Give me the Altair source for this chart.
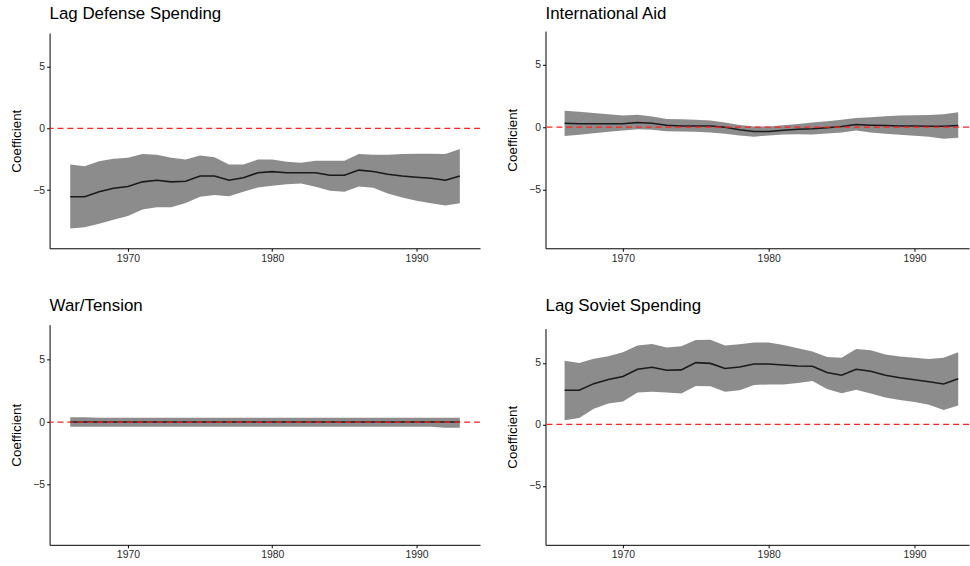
import altair as alt
import pandas as pd

# Time-varying coefficient estimates with 95% bands, 1966-1993
years = list(range(1966, 1994))

defense_est = [-5.53, -5.53, -5.13, -4.84, -4.70, -4.33, -4.20, -4.33, -4.28, -3.86,
               -3.86, -4.20, -4.00, -3.60, -3.50, -3.60, -3.60, -3.60, -3.80, -3.80,
               -3.38, -3.50, -3.72, -3.86, -3.96, -4.04, -4.20, -3.86]
defense_hi = [-2.93, -3.06, -2.66, -2.47, -2.39, -2.07, -2.13, -2.39, -2.53, -2.20,
              -2.34, -2.93, -2.93, -2.53, -2.53, -2.71, -2.79, -2.63, -2.63, -2.63,
              -2.07, -2.13, -2.13, -2.07, -2.05, -2.05, -2.07, -1.68]
defense_lo = [-8.11, -8.00, -7.71, -7.39, -7.10, -6.57, -6.38, -6.38, -6.04, -5.53,
              -5.40, -5.50, -5.13, -4.79, -4.65, -4.52, -4.47, -4.73, -5.05, -5.13,
              -4.70, -4.81, -5.27, -5.59, -5.85, -6.06, -6.25, -6.06]

aid_est = [0.32, 0.27, 0.27, 0.27, 0.27, 0.37, 0.32, 0.16, 0.10, 0.10,
           0.10, 0.00, -0.20, -0.34, -0.34, -0.24, -0.16, -0.13, -0.05, 0.05,
           0.21, 0.16, 0.13, 0.10, 0.10, 0.08, 0.08, 0.13]
aid_hi = [1.32, 1.24, 1.14, 1.03, 0.93, 1.00, 0.85, 0.66, 0.63, 0.60,
          0.53, 0.37, 0.18, 0.05, 0.05, 0.16, 0.26, 0.37, 0.48, 0.60,
          0.74, 0.79, 0.87, 0.93, 0.95, 0.98, 1.03, 1.19]
aid_lo = [-0.71, -0.61, -0.48, -0.37, -0.26, -0.16, -0.21, -0.32, -0.34, -0.37,
          -0.42, -0.53, -0.66, -0.77, -0.66, -0.58, -0.56, -0.58, -0.50, -0.42,
          -0.26, -0.42, -0.53, -0.61, -0.69, -0.77, -0.93, -0.85]

war_est = [0.02] * 28
war_hi = [0.40, 0.40] + [0.35] * 26
war_lo = [-0.37] * 26 + [-0.45, -0.45]

soviet_est = [2.78, 2.78, 3.32, 3.66, 3.90, 4.49, 4.65, 4.41, 4.44, 5.03,
              4.97, 4.55, 4.68, 4.92, 4.92, 4.84, 4.76, 4.73, 4.22, 4.01,
              4.49, 4.33, 4.01, 3.80, 3.64, 3.48, 3.29, 3.72]
soviet_hi = [5.19, 5.00, 5.35, 5.56, 5.88, 6.42, 6.55, 6.26, 6.36, 6.87,
             6.90, 6.42, 6.52, 6.66, 6.66, 6.47, 6.20, 5.94, 5.48, 5.43,
             6.15, 6.04, 5.70, 5.53, 5.43, 5.32, 5.43, 5.88]
soviet_lo = [0.35, 0.53, 1.28, 1.71, 1.87, 2.59, 2.67, 2.59, 2.51, 3.13,
             3.10, 2.67, 2.78, 3.21, 3.26, 3.26, 3.37, 3.53, 2.89, 2.54,
             2.83, 2.51, 2.19, 1.98, 1.82, 1.60, 1.18, 1.55]

x_ticks = [1970, 1980, 1990]
y_ticks = [-5, 0, 5]

FONT = "Liberation Sans"


def panel(title, est, lo, hi, width, height, x_domain, y_domain, top_inset, title_offset):
    df = pd.DataFrame({"year": years, "est": est, "lo": lo, "hi": hi})
    base = alt.Chart(df)
    x = alt.X(
        "year:Q",
        scale=alt.Scale(domain=x_domain, nice=False, zero=False),
        axis=alt.Axis(values=x_ticks, format="d", title=None, grid=False,
                      domainColor="black", tickColor="black", tickSize=3,
                      labelFontSize=10.5, labelColor="#2a2a2a", labelPadding=2,
                      labelFont=FONT),
    )
    # the value axis may start a few pixels below the panel top
    y_scale = alt.Scale(domain=y_domain, nice=False, zero=False,
                        range=[height, top_inset])
    y_axis = alt.Axis(values=y_ticks, title="Coefficient", grid=False,
                      domainColor="black", tickColor="black", tickSize=3,
                      labelFontSize=10.5, labelColor="#2a2a2a", labelPadding=2,
                      labelFont=FONT, titleFont=FONT, titleFontSize=13.5,
                      titleFontWeight="normal", titleColor="black", titlePadding=9)

    band = base.mark_area(color="#8c8c8c", opacity=1).encode(
        x=x, y=alt.Y("lo:Q", scale=y_scale, axis=y_axis), y2="hi:Q"
    )
    line = base.mark_line(color="#1a1a1a", strokeWidth=1.6).encode(
        x=x, y=alt.Y("est:Q", scale=y_scale)
    )
    zero = alt.Chart(pd.DataFrame({"z": [0]})).mark_rule(
        color="#ff2020", strokeDash=[6, 4], strokeWidth=1.3
    ).encode(y=alt.Y("z:Q", scale=y_scale))

    return alt.layer(band, line, zero).properties(
        width=width,
        height=height,
        title=alt.TitleParams(title, anchor="start", frame="group", fontSize=17,
                              font=FONT, fontWeight="normal", color="black",
                              offset=title_offset),
    )


left_dom = [1964.57, 1994.40]
right_dom = [1964.69, 1993.74]

p1 = panel("Lag Defense Spending", defense_est, defense_lo, defense_hi,
           434, 219, left_dom, [-9.7, 7.7], 2, 8)
p2 = panel("International Aid", aid_est, aid_lo, aid_hi,
           427, 219, right_dom, [-9.7, 7.7], 0, 8)
p3 = panel("War/Tension", war_est, war_lo, war_hi,
           434, 222, left_dom, [-9.8, 7.8], 0, 10)
p4 = panel("Lag Soviet Spending", soviet_est, soviet_lo, soviet_hi,
           427, 222, right_dom, [-9.8, 7.8], 4, 10)

chart = alt.vconcat(
    alt.hconcat(p1, p2, spacing=25),
    alt.hconcat(p3, p4, spacing=25),
    spacing=33,
).properties(
    padding={"left": 10, "top": 3, "right": 0, "bottom": 0},
    background="white",
).configure_view(stroke=None)

chart.save("out.html", embed_options={"renderer": "svg", "actions": False})
